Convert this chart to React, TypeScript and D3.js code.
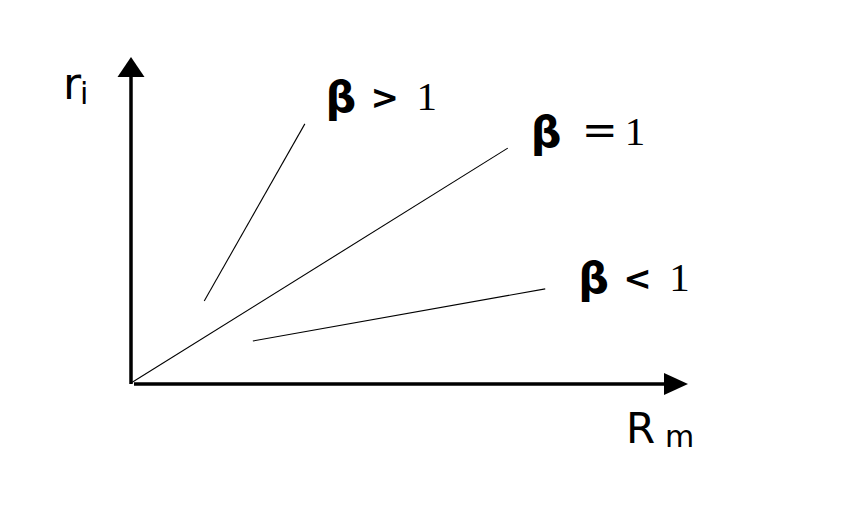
import React from "react";
import * as d3 from "d3";

const W = 864;
const H = 512;

// Lines in data units (0-100 on both axes)
const lineNames = ["gt", "eq", "lt"];
const lineX0 = [13.1, 0, 21.8];
const lineY0 = [25.0, 0, 12.8];
const lineX1 = [31.1, 67.4, 74.1];
const lineY1 = [79.0, 71.6, 28.7];

// Labels: beta relation
const labelOps = [">", "=", "<"];
const labelX = [34.8, 71.5, 80.0];
const labelY = [83.2, 72.6, 28.0];

export default function App() {
  const x = d3.scaleLinear().domain([0, 100]).range([131, 690]);
  const y = d3.scaleLinear().domain([0, 100]).range([383, 55]);

  const axisX0 = x(0);
  const axisY0 = y(0);
  const xEnd = x(100);
  const yEnd = y(100);

  const serif = "'Liberation Serif', 'DejaVu Serif', serif";
  const dserif = "'DejaVu Serif', serif";
  const sans = "'DejaVu Sans', sans-serif";

  return (
    <svg
      width={W}
      height={H}
      style={{ position: "absolute", left: 0, top: 0, background: "#fff" }}
    >
      <rect width={W} height={H} fill="#fff" />
      {/* y axis */}
      <line x1={axisX0} y1={axisY0 + 1} x2={axisX0} y2={yEnd + 18} stroke="#000" strokeWidth={3.5} />
      <path
        d={`M${axisX0},${yEnd + 2} L${axisX0 - 13.5},${yEnd + 22} L${axisX0 + 13.5},${yEnd + 22} Z`}
        fill="#000"
      />
      {/* x axis */}
      <line x1={axisX0 + 3} y1={axisY0 + 1} x2={xEnd - 20} y2={axisY0 + 1} stroke="#000" strokeWidth={3.5} />
      <path
        d={`M${xEnd - 2},${axisY0 + 1} L${xEnd - 26},${axisY0 - 10} L${xEnd - 26},${axisY0 + 12} Z`}
        fill="#000"
      />
      {/* beta lines */}
      {lineNames.map((n, i) => (
        <line
          key={n}
          x1={x(lineX0[i])}
          y1={y(lineY0[i])}
          x2={x(lineX1[i])}
          y2={y(lineY1[i])}
          stroke="#000"
          strokeWidth={1.1}
        />
      ))}
      {/* labels */}
      {labelOps.map((op, i) => {
        const lx = x(labelX[i]);
        const ly = y(labelY[i]);
        return (
          <g key={op} transform={`translate(${lx},${ly})`}>
            <text x={0} y={2} fontFamily={sans} fontWeight="bold" fontSize={43} fill="#000">β</text>
            {op === "=" ? (
              <>
                <text x={51} y={0} fontFamily={dserif} fontSize={43} fill="#000">=</text>
                <text x={94} y={0} fontFamily={serif} fontSize={41} fill="#000">1</text>
              </>
            ) : (
              <>
                <text x={45} y={-1} fontFamily={sans} fontWeight="bold" fontSize={34} fill="#000">{op}</text>
                <text x={91} y={0} fontFamily={serif} fontSize={41} fill="#000">1</text>
              </>
            )}
          </g>
        );
      })}
      {/* axis labels */}
      <text x={63} y={99} fontFamily={sans} fontSize={44} fill="#000">r</text>
      <text x={80} y={104} fontFamily={sans} fontSize={30} fill="#000">i</text>
      <text x={626} y={443} fontFamily={sans} fontSize={42} fill="#000">R</text>
      <text x={665} y={447} fontFamily={sans} fontSize={30} fill="#000">m</text>
    </svg>
  );
}
